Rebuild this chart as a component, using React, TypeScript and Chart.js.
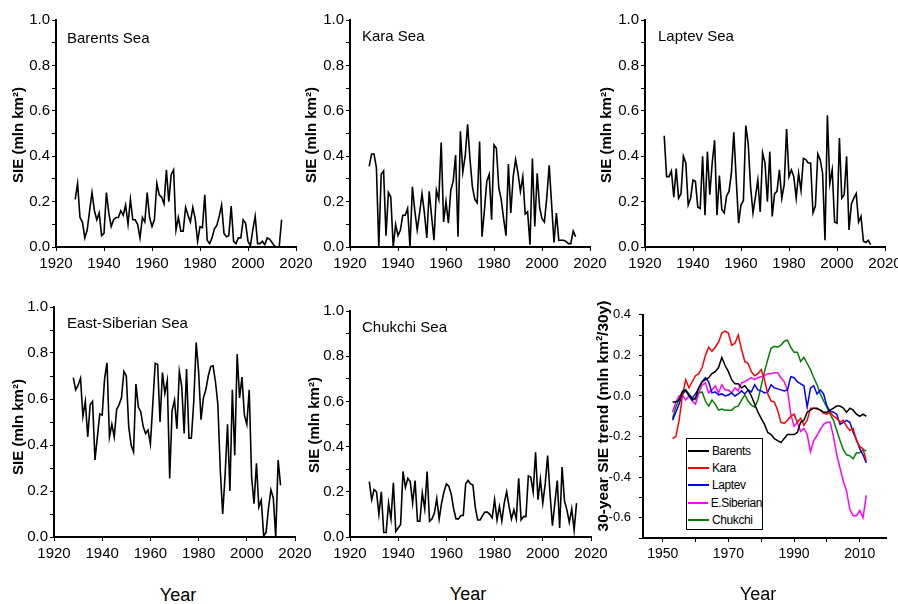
import React, { useEffect, useRef } from 'react';
import { Chart, registerables } from 'chart.js';

Chart.register(...registerables);
Chart.defaults.font.family = "'Liberation Sans', Arial, sans-serif";

// ---------- data: annual sea-ice extent (mln km²), 1928–2014 ----------
const FIRST_YEAR = 1928;

const BARENTS = [
  0.21, 0.28, 0.13, 0.11, 0.04, 0.075, 0.16, 0.24, 0.16, 0.12,
  0.15, 0.05, 0.06, 0.24, 0.15, 0.09, 0.12, 0.13, 0.13, 0.16,
  0.14, 0.185, 0.10, 0.21, 0.12, 0.12, 0.10, 0.04, 0.13, 0.11,
  0.24, 0.13, 0.09, 0.12, 0.28, 0.23, 0.22, 0.19, 0.34, 0.20,
  0.32, 0.34, 0.075, 0.13, 0.07, 0.07, 0.175, 0.14, 0.11, 0.175,
  0.125, 0.025, 0.09, 0.085, 0.23, 0.03, 0.015, 0.04, 0.08, 0.095,
  0.135, 0.185, 0.06, 0.045, 0.05, 0.18, 0.025, 0.015, 0.04, 0.04,
  0.12, 0.105, 0.025, 0.005, 0.075, 0.135, 0.015, 0.015, 0.025, 0.01,
  0.04, 0.035, 0.02, 0.005, 0.0, 0.0, 0.12,
];

const KARA = [
  0.355, 0.41, 0.41, 0.35, 0.0, 0.32, 0.335, 0.05, 0.24, 0.22,
  0.0, 0.10, 0.05, 0.075, 0.14, 0.14, 0.17, 0.0, 0.265, 0.16,
  0.075, 0.15, 0.235, 0.15, 0.04, 0.245, 0.135, 0.03, 0.25, 0.21,
  0.46, 0.11, 0.2, 0.105, 0.25, 0.29, 0.405, 0.045, 0.51, 0.33,
  0.40, 0.54, 0.385, 0.265, 0.21, 0.195, 0.465, 0.045, 0.16, 0.29,
  0.32, 0.12, 0.45, 0.435, 0.26, 0.21, 0.125, 0.05, 0.365, 0.15,
  0.31, 0.385, 0.325, 0.245, 0.31, 0.145, 0.155, 0.01, 0.39, 0.09,
  0.325, 0.175, 0.125, 0.11, 0.22, 0.36, 0.19, 0.02, 0.15, 0.03,
  0.03, 0.03, 0.025, 0.015, 0.015, 0.07, 0.045,
];

const LAPTEV = [
  0.49, 0.31, 0.31, 0.335, 0.22, 0.345, 0.215, 0.235, 0.40, 0.37,
  0.185, 0.215, 0.295, 0.29, 0.175, 0.17, 0.40, 0.14, 0.42, 0.23,
  0.37, 0.47, 0.14, 0.315, 0.165, 0.15, 0.225, 0.245, 0.325, 0.505,
  0.30, 0.105, 0.185, 0.205, 0.535, 0.455, 0.265, 0.15, 0.22, 0.295,
  0.155, 0.415, 0.37, 0.20, 0.42, 0.135, 0.235, 0.245, 0.34, 0.215,
  0.275, 0.52, 0.31, 0.34, 0.31, 0.215, 0.325, 0.25, 0.39, 0.385,
  0.37, 0.37, 0.15, 0.18, 0.41, 0.385, 0.325, 0.03, 0.58, 0.28,
  0.34, 0.11, 0.105, 0.48, 0.215, 0.23, 0.40, 0.075, 0.19, 0.215,
  0.235, 0.11, 0.135, 0.025, 0.02, 0.03, 0.01,
];

const EAST_SIBERIAN = [
  0.693, 0.64, 0.66, 0.69, 0.525, 0.59, 0.435, 0.575, 0.59, 0.335,
  0.435, 0.535, 0.53, 0.69, 0.757, 0.435, 0.49, 0.435, 0.555, 0.575,
  0.605, 0.72, 0.70, 0.48, 0.40, 0.37, 0.665, 0.565, 0.545, 0.48,
  0.45, 0.465, 0.405, 0.58, 0.755, 0.75, 0.50, 0.715, 0.625, 0.68,
  0.255, 0.55, 0.595, 0.47, 0.72, 0.655, 0.45, 0.73, 0.43, 0.43,
  0.59, 0.845, 0.72, 0.51, 0.605, 0.64, 0.70, 0.74, 0.745, 0.675,
  0.575, 0.29, 0.10, 0.27, 0.49, 0.20, 0.64, 0.355, 0.795, 0.605,
  0.695, 0.53, 0.49, 0.64, 0.26, 0.145, 0.32, 0.13, 0.16, 0.005,
  0.02, 0.125, 0.205, 0.17, 0.0, 0.335, 0.225,
];

const CHUKCHI = [
  0.245, 0.165, 0.21, 0.20, 0.10, 0.20, 0.02, 0.02, 0.15, 0.08,
  0.24, 0.025, 0.04, 0.055, 0.29, 0.22, 0.26, 0.245, 0.15, 0.25,
  0.07, 0.07, 0.195, 0.125, 0.29, 0.07, 0.08, 0.105, 0.17, 0.08,
  0.15, 0.20, 0.235, 0.225, 0.19, 0.125, 0.08, 0.08, 0.095, 0.095,
  0.235, 0.25, 0.235, 0.23, 0.13, 0.075, 0.075, 0.095, 0.11, 0.11,
  0.10, 0.085, 0.165, 0.075, 0.135, 0.07, 0.15, 0.20, 0.135, 0.08,
  0.12, 0.08, 0.26, 0.075, 0.09, 0.09, 0.27, 0.265, 0.20, 0.375,
  0.165, 0.255, 0.15, 0.235, 0.36, 0.19, 0.05, 0.15, 0.25, 0.04,
  0.31, 0.16, 0.12, 0.065, 0.125, 0.03, 0.15,
];

// ---------- data: 30-year SIE trend (mln km²/30y), 1953–2012 ----------
const TREND_FIRST_YEAR = 1953;

const TREND_BARENTS = [
  -0.03, -0.03, -0.02, 0.02, 0.03, 0.0, -0.02, -0.01, 0.04, 0.07,
  0.08, 0.09, 0.11, 0.12, 0.14, 0.19, 0.15, 0.12, 0.08, 0.06,
  0.06, 0.04, 0.05, 0.03, 0.0, -0.04, -0.08, -0.11, -0.14, -0.18,
  -0.19, -0.21, -0.22, -0.23, -0.21, -0.19, -0.19, -0.19, -0.18, -0.13,
  -0.12, -0.08, -0.07, -0.06, -0.06, -0.07, -0.08, -0.08, -0.07, -0.06,
  -0.05, -0.05, -0.06, -0.08, -0.06, -0.07, -0.09, -0.10, -0.09, -0.10,
];
const TREND_KARA = [
  -0.21, -0.20, -0.12, 0.0, 0.08, 0.04, 0.07, 0.10, 0.11, 0.14,
  0.20, 0.24, 0.22, 0.24, 0.265, 0.31, 0.32, 0.31, 0.25, 0.26,
  0.30, 0.23, 0.17, 0.16, 0.12, 0.10, 0.11, 0.13, 0.08, 0.01,
  -0.025, -0.03, -0.07, -0.13, -0.135, -0.12, -0.10, -0.09, -0.13, -0.11,
  -0.145, -0.12, -0.06, -0.06, -0.065, -0.07, -0.085, -0.09, -0.08, -0.10,
  -0.11, -0.13, -0.12, -0.15, -0.17, -0.16, -0.22, -0.25, -0.26, -0.32,
];
const TREND_LAPTEV = [
  -0.12, -0.08, -0.04, 0.01, 0.025, 0.005, -0.01, 0.01, 0.04, 0.07,
  0.09, 0.07, 0.015, 0.02, 0.005, 0.01, 0.0, 0.005, 0.015, 0.0,
  0.01, 0.025, 0.01, 0.03, 0.02, 0.055, 0.03, 0.025, 0.015, 0.02,
  0.055, 0.04, 0.035, 0.03, 0.025, 0.03, 0.095, 0.09, 0.07, 0.06,
  0.05, -0.055, 0.04, 0.05, 0.01, 0.03, 0.01, -0.05, -0.075, -0.08,
  -0.09, -0.14, -0.13, -0.12, -0.13, -0.18, -0.215, -0.26, -0.29, -0.33,
];
const TREND_EAST_SIBERIAN = [
  -0.08, -0.03, 0.0, 0.005, -0.02, 0.0, -0.025, -0.04, 0.015, 0.055,
  0.065, 0.015, 0.03, 0.05, 0.015, 0.055, 0.03, 0.03, 0.015, 0.04,
  0.025, 0.065, 0.07, 0.08, 0.09, 0.08, 0.09, 0.095, 0.10, 0.11,
  0.11, 0.115, 0.115, 0.09, 0.07, 0.03, -0.09, -0.15, -0.13, -0.175,
  -0.16, -0.19, -0.275, -0.22, -0.195, -0.165, -0.14, -0.13, -0.13, -0.20,
  -0.29, -0.355, -0.42, -0.47, -0.56, -0.59, -0.59, -0.565, -0.6, -0.49,
];
const TREND_CHUKCHI = [
  -0.11, -0.055, -0.015, 0.025, 0.03, 0.01, -0.01, -0.015, 0.015, 0.02,
  -0.025, -0.05, -0.02, -0.04, -0.07, -0.065, -0.07, -0.07, -0.07, -0.055,
  -0.05, -0.02, 0.005, -0.025, -0.045, -0.055, -0.02, 0.05, 0.12, 0.18,
  0.235, 0.245, 0.24, 0.25, 0.27, 0.275, 0.24, 0.215, 0.215, 0.17,
  0.19, 0.16, 0.13, 0.09, 0.055, 0.01, -0.025, -0.055, -0.09, -0.12,
  -0.17, -0.22, -0.265, -0.29, -0.295, -0.31, -0.28, -0.28, -0.265, -0.27,
];

const TREND_NAMES = ['Barents', 'Kara', 'Laptev', 'E.Siberian', 'Chukchi'];
const TREND_COLORS = ['#000000', '#ff0000', '#0000ff', '#ff00ff', '#008000'];
const TREND_SERIES = [TREND_BARENTS, TREND_KARA, TREND_LAPTEV, TREND_EAST_SIBERIAN, TREND_CHUKCHI];

// ---------- ticks ----------
const SIE_X_TICKS = [1920, 1940, 1960, 1980, 2000, 2020];
const SIE_Y_TICKS = [0, 0.1, 0.2, 0.3, 0.4, 0.5, 0.6, 0.7, 0.8, 0.9, 1.0];
const SIE_Y_LABELLED = [0, 0.2, 0.4, 0.6, 0.8, 1.0];
const TREND_X_TICKS = [1950, 1960, 1970, 1980, 1990, 2000, 2010];
const TREND_X_LABELLED = [1950, 1970, 1990, 2010];
const TREND_Y_TICKS = [-0.7, -0.6, -0.5, -0.4, -0.3, -0.2, -0.1, 0, 0.1, 0.2, 0.3, 0.4];
const TREND_Y_LABELLED = [-0.6, -0.4, -0.2, 0, 0.2, 0.4];

const Y_TITLE = 'SIE (mln km²)';
const TREND_Y_TITLE = '30-year SIE trend (mln km²/30y)';
const X_TITLE = 'Year';

const FONT = "'Liberation Sans', Arial, sans-serif";

const has = (list: number[], v: number) => list.some((t) => Math.abs(t - v) < 1e-6);
const fmtY = (v: number) => {
  const s = Math.abs(v).toFixed(1);
  return v < -1e-9 ? '-' + s : s;
};

type Rect = { l: number; t: number; r: number; b: number };

type PanelProps = {
  plot: Rect;
  datasets: any[];
  xMin: number;
  xMax: number;
  yMin: number;
  yMax: number;
  xTicks: number[];
  xLabelled: number[];
  yTicks: number[];
  yLabelled: number[];
  yPad: number;
  xFont: number;
  yFont: number;
};

const PAD_L = 56;
const PAD_T = 12;
const PAD_R = 26;
const PAD_B = 32;

function Panel(p: PanelProps) {
  const ref = useRef<HTMLCanvasElement>(null);
  const w = p.plot.r - p.plot.l + PAD_L + PAD_R;
  const h = p.plot.b - p.plot.t + PAD_T + PAD_B;
  useEffect(() => {
    if (!ref.current) return;
    const gridCfg = { display: true, drawOnChartArea: false, drawTicks: true, tickLength: 4, color: '#000', lineWidth: 1 };
    const borderCfg = { display: true, color: '#000', width: 2 };
    const chart = new Chart(ref.current, {
      type: 'line',
      data: { datasets: p.datasets },
      options: {
        animation: false,
        responsive: false,
        maintainAspectRatio: false,
        events: [],
        layout: { padding: { left: 0, top: PAD_T, right: PAD_R, bottom: 0 } },
        plugins: { legend: { display: false }, tooltip: { enabled: false } },
        elements: { point: { radius: 0 }, line: { tension: 0 } },
        scales: {
          x: {
            type: 'linear',
            min: p.xMin,
            max: p.xMax,
            afterFit: (s: any) => { s.height = PAD_B; },
            afterBuildTicks: (s: any) => { s.ticks = p.xTicks.map((v) => ({ value: v })); },
            grid: gridCfg,
            border: borderCfg,
            ticks: {
              autoSkip: false,
              maxRotation: 0,
              padding: 4,
              color: '#000',
              font: { size: p.xFont, family: FONT },
              callback: (v: any) => (has(p.xLabelled, Number(v)) ? String(v) : ''),
            },
          },
          y: {
            type: 'linear',
            min: p.yMin,
            max: p.yMax,
            afterFit: (s: any) => { s.width = PAD_L; },
            afterBuildTicks: (s: any) => { s.ticks = p.yTicks.map((v) => ({ value: v })); },
            grid: gridCfg,
            border: borderCfg,
            ticks: {
              autoSkip: false,
              padding: p.yPad,
              color: '#000',
              font: { size: p.yFont, family: FONT },
              callback: (v: any) => (has(p.yLabelled, Number(v)) ? fmtY(Number(v)) : ''),
            },
          },
        },
      } as any,
    });
    return () => chart.destroy();
  }, []);
  return (
    <canvas
      ref={ref}
      width={w}
      height={h}
      style={{ position: 'absolute', left: p.plot.l - PAD_L, top: p.plot.t - PAD_T, width: w, height: h }}
    />
  );
}

const sieDataset = (values: number[]) => [
  {
    data: values.map((v, i) => ({ x: FIRST_YEAR + i, y: v })),
    borderColor: '#000',
    borderWidth: 1.6,
    pointRadius: 0,
    fill: false,
  },
];

const trendDatasets = TREND_SERIES.map((vals, k) => ({
  label: TREND_NAMES[k],
  data: vals.map((v, i) => ({ x: TREND_FIRST_YEAR + i, y: v })),
  borderColor: TREND_COLORS[k],
  borderWidth: 1.5,
  pointRadius: 0,
  fill: false,
}));

const SIE_PANELS = [
  { name: 'Barents Sea', values: BARENTS, plot: { l: 56, t: 20, r: 296, b: 247 }, nameAt: [67, 38], titleAt: [17, 135] },
  { name: 'Kara Sea', values: KARA, plot: { l: 350, t: 20, r: 590, b: 247 }, nameAt: [362, 36], titleAt: [310, 135] },
  { name: 'Laptev Sea', values: LAPTEV, plot: { l: 645, t: 20, r: 885, b: 247 }, nameAt: [658, 36], titleAt: [605, 135] },
  { name: 'East-Siberian Sea', values: EAST_SIBERIAN, plot: { l: 54, t: 307, r: 295, b: 537 }, nameAt: [67, 323], titleAt: [17, 427] },
  { name: 'Chukchi Sea', values: CHUKCHI, plot: { l: 350, t: 311, r: 591, b: 537 }, nameAt: [362, 327], titleAt: [313, 425] },
];

const TREND_PLOT = { l: 643, t: 311, r: 886, b: 538 };

const rotTitle = (text: string, cx: number, cy: number, size: number) => (
  <div
    key={text + cx + cy}
    style={{
      position: 'absolute',
      left: cx,
      top: cy,
      transform: 'translate(-50%, -50%) rotate(-90deg)',
      whiteSpace: 'nowrap',
      fontFamily: FONT,
      fontWeight: 'bold',
      fontSize: size,
      lineHeight: 1,
      color: '#000',
    }}
  >
    {text}
  </div>
);

const centered = (text: string, cx: number, cy: number, size: number) => (
  <div
    key={text + cx + cy}
    style={{
      position: 'absolute',
      left: cx,
      top: cy,
      transform: 'translate(-50%, -50%)',
      whiteSpace: 'nowrap',
      fontFamily: FONT,
      fontSize: size,
      lineHeight: 1,
      color: '#000',
    }}
  >
    {text}
  </div>
);

export default function App() {
  return (
    <div
      style={{
        position: 'absolute',
        left: 0,
        top: 0,
        width: 898,
        height: 604,
        background: '#fff',
        overflow: 'hidden',
        fontFamily: FONT,
      }}
    >
      {SIE_PANELS.map((pn) => (
        <Panel
          key={pn.name}
          plot={pn.plot}
          datasets={sieDataset(pn.values)}
          xMin={1920}
          xMax={2020}
          yMin={0}
          yMax={1}
          xTicks={SIE_X_TICKS}
          xLabelled={SIE_X_TICKS}
          yTicks={SIE_Y_TICKS}
          yLabelled={SIE_Y_LABELLED}
          yPad={2}
          xFont={15}
          yFont={15}
        />
      ))}
      <Panel
        plot={TREND_PLOT}
        datasets={trendDatasets}
        xMin={1944}
        xMax={2018}
        yMin={-0.7}
        yMax={0.4}
        xTicks={TREND_X_TICKS}
        xLabelled={TREND_X_LABELLED}
        yTicks={TREND_Y_TICKS}
        yLabelled={TREND_Y_LABELLED}
        yPad={8}
        xFont={14}
        yFont={13}
      />

      {SIE_PANELS.map((pn) => (
        <div
          key={'n' + pn.name}
          style={{
            position: 'absolute',
            left: pn.nameAt[0],
            top: pn.nameAt[1] - 8,
            fontFamily: FONT,
            fontSize: 15,
            lineHeight: 1,
            whiteSpace: 'nowrap',
            color: '#000',
          }}
        >
          {pn.name}
        </div>
      ))}

      {SIE_PANELS.map((pn) => rotTitle(Y_TITLE, pn.titleAt[0], pn.titleAt[1], 15))}
      {rotTitle(TREND_Y_TITLE, 603, 416, 15.5)}

      {centered(X_TITLE, 178, 595, 18)}
      {centered(X_TITLE, 468, 594, 18)}
      {centered(X_TITLE, 758, 594, 18)}

      <div
        style={{
          position: 'absolute',
          left: 686,
          top: 438,
          width: 77,
          height: 92,
          border: '1px solid #000',
          boxSizing: 'border-box',
          background: '#fff',
          paddingTop: 3,
        }}
      >
        {TREND_NAMES.map((nm, k) => (
          <div key={nm} style={{ display: 'flex', alignItems: 'center', height: 17.4 }}>
            <div style={{ width: 21, height: 2, background: TREND_COLORS[k], marginLeft: 1, marginRight: 3 }} />
            <span style={{ fontFamily: FONT, fontSize: 12, lineHeight: 1, whiteSpace: 'nowrap', letterSpacing: -0.4 }}>{nm}</span>
          </div>
        ))}
      </div>
    </div>
  );
}
